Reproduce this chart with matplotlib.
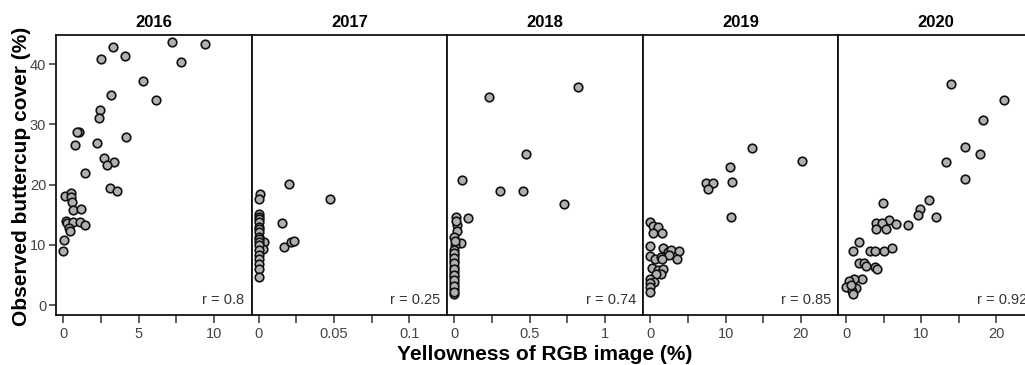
import matplotlib
matplotlib.use("Agg")
import matplotlib.pyplot as plt

plt.rcParams['font.family'] = ['Liberation Sans', 'DejaVu Sans']

years = ["2016", "2017", "2018", "2019", "2020"]
r_values = ["r = 0.8", "r = 0.25", "r = 0.74", "r = 0.85", "r = 0.92"]

x16 = [7.23, 9.38, 3.29, 4.07, 2.49, 7.8, 5.29, 6.13, 3.18, 2.45, 2.36, 1.05, 0.9, 0.78, 4.13,
       2.2, 2.73, 3.33, 2.89, 1.45, 3.11, 3.56, 0.13, 0.53, 0.53, 0.56, 0.65, 1.18, 0.18, 0.25,
       0.62, 1.13, 1.45, 0.4, 0.47, 0.02, 0.0]
y16 = [43.7, 43.3, 42.8, 41.3, 40.8, 40.4, 37.2, 34.0, 34.9, 32.4, 31.0, 28.8, 28.8, 26.6, 27.9,
       26.9, 24.5, 23.75, 23.2, 21.9, 19.4, 19.0, 18.1, 18.55, 18.0, 17.1, 15.8, 15.9, 13.95, 13.6,
       13.8, 13.8, 13.3, 12.85, 12.35, 10.8, 9.0]

x17 = [0.0199, 0.0475, 0.0007, 0.0, 0.0154, 0.0166, 0.0216, 0.0232, 0.0035, 0.0029,
       0.0, 0.0005, 0.0, 0.0005, 0.0, 0.0005, 0.0, 0.0005,
       0.0, 0.0005, 0.0, 0.0, 0.0005, 0.0, 0.0, 0.0005, 0.0]
y17 = [20.05, 17.6, 18.4, 17.6, 13.7, 9.6, 10.5, 10.6, 10.5, 9.25,
       15.1, 14.6, 14.3, 13.85, 13.0, 12.6, 12.2, 11.35,
       10.9, 10.5, 10.0, 9.1, 8.3, 7.6, 6.8, 5.9, 4.6]

x18 = [0.823, 0.232, 0.475, 0.055, 0.305, 0.457, 0.728, 0.095, 0.046, 0.013, 0.02, 0.02,
       0.002, 0.005, 0.0, 0.0, 0.0, 0.0, 0.0, 0.0, 0.0, 0.0, 0.0, 0.005, 0.01,
       0.0, 0.0, 0.0, 0.0, 0.0, 0.0, 0.0, 0.0]
y18 = [36.2, 34.5, 25.1, 20.7, 19.0, 19.0, 16.8, 14.5, 10.35, 14.6, 13.3, 12.35,
       11.35, 9.97, 9.1, 8.3, 7.36, 6.36, 5.5, 4.6, 3.7, 2.6, 1.8, 10.7, 13.9,
       8.7, 7.8, 6.9, 5.9, 5.0, 4.1, 3.2, 2.2]

x19 = [13.45, 20.1, 10.53, 10.9, 7.39, 8.32, 7.65, 10.66,
       0.0, 0.3, 0.97, 0.4, 1.54,
       0.0, 1.63, 2.3, 2.74, 3.76, 0.0, 0.66, 1.41, 2.43, 3.5, 1.6,
       0.2, 0.97, 1.63, 1.41, 0.75, 0.0, 0.53, 0.0, 0.0, 0.0]
y19 = [26.0, 24.0, 23.0, 20.4, 20.3, 20.3, 19.3, 14.7,
       13.85, 13.1, 12.9, 11.9, 11.9,
       9.8, 9.4, 8.85, 9.1, 9.0, 8.15, 7.6, 7.9, 8.3, 7.6, 7.7,
       6.1, 5.8, 5.9, 5.15, 5.15, 4.4, 3.9, 3.6, 2.94, 2.2]

x20 = [13.98, 21.07, 18.27, 15.84, 17.8, 13.23, 15.8,
       4.86, 10.97, 9.83, 9.6, 12.0, 8.2, 5.7, 6.6,
       4.0, 4.8, 4.0, 5.26, 1.68, 0.88, 3.14, 3.9, 5.1, 6.1,
       1.75, 2.4, 2.6, 3.8, 4.05, 2.18, 1.0, 0.38, 0.04, 1.3, 0.84, 0.93, 0.7]
y20 = [36.65, 34.0, 30.7, 26.2, 25.1, 23.75, 20.9,
       17.0, 17.4, 16.0, 14.9, 14.7, 13.3, 14.2, 13.45,
       13.6, 13.6, 12.6, 12.6, 10.5, 9.0, 9.0, 9.0, 9.0, 9.5,
       7.0, 7.0, 6.4, 6.3, 5.9, 4.3, 4.3, 4.0, 3.05, 2.8, 2.35, 1.85, 3.3]

xs = [x16, x17, x18, x19, x20]
ys = [y16, y17, y18, y19, y20]

x_limits = [(-0.49, 12.5), (-0.0046, 0.125), (-0.046, 1.25), (-1.02, 25.0), (-1.02, 25.0)]
x_ticks = [[0, 2.5, 5, 7.5, 10], [0, 0.025, 0.05, 0.075, 0.1], [0, 0.25, 0.5, 0.75, 1],
           [0, 5, 10, 15, 20], [0, 5, 10, 15, 20]]
x_ticklabels = [["0", "", "5", "", "10"], ["0", "", "0.05", "", "0.1"], ["0", "", "0.5", "", "1"],
                ["0", "", "10", "", "20"], ["0", "", "10", "", "20"]]
y_ticks = [0, 10, 20, 30, 40]
y_limits = (-1.66, 44.85)

W, H = 1025, 365
fig = plt.figure(figsize=(W / 100, H / 100), dpi=100)

left0 = 56
pw = 195.6
top_px, bot_px = 35, 315
tick_color = '#444444'

for i in range(5):
    ax = fig.add_axes([(left0 + i * pw) / W, (H - bot_px) / H, pw / W, (bot_px - top_px) / H])
    ax.scatter(xs[i], ys[i], s=38, facecolor='#b0b0b0', edgecolor='#111111', linewidths=1.2, zorder=3)
    ax.set_xlim(*x_limits[i])
    ax.set_ylim(*y_limits)
    ax.set_xticks(x_ticks[i])
    ax.set_xticklabels(x_ticklabels[i])
    for s in ax.spines.values():
        s.set_linewidth(1.3)
        s.set_color('#111111')
    ax.tick_params(axis='x', direction='out', length=6, width=1.1, color='#333333',
                   labelsize=10.5, labelcolor=tick_color, pad=2.5)
    if i == 0:
        ax.set_yticks(y_ticks)
        ax.tick_params(axis='y', direction='out', length=5, width=1.1, color='#333333',
                       labelsize=10.5, labelcolor=tick_color, pad=2)
    else:
        ax.set_yticks([])
    ax.set_title(years[i], fontsize=12, fontweight='bold', pad=6)
    ax.text(1 - 7 / pw, 15 / (bot_px - top_px), r_values[i], transform=ax.transAxes,
            ha='right', va='center', fontsize=10.5, color='#333333')

fig.text(22 / W, 1 - 176 / H, "Observed buttercup cover (%)", rotation=90, ha='center', va='center',
         fontsize=15, fontweight='bold')
fig.text(545 / W, 1 - 354 / H, "Yellowness of RGB image (%)", ha='center', va='center',
         fontsize=15, fontweight='bold')

fig.savefig("out.png", dpi=100)
